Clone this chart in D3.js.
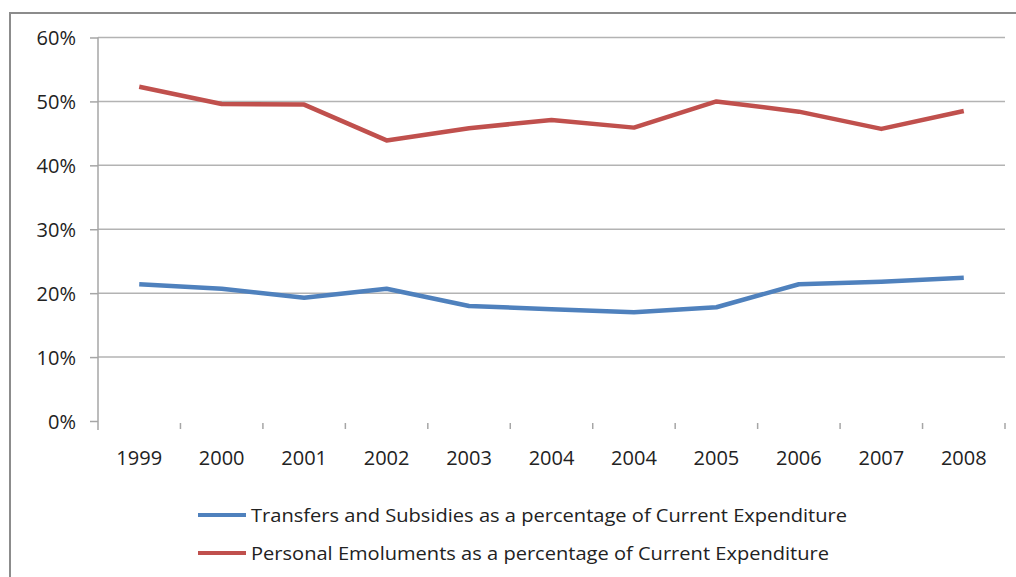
<!DOCTYPE html>
<html>
<head>
<meta charset="utf-8">
<script src="https://cdn.jsdelivr.net/npm/d3@7"></script>
<style>
  body { margin: 0; background: #fff; }
  text { font-family: "Open Sans", "Noto Sans", sans-serif; fill: #222; }
</style>
</head>
<body>
<script>
// years as printed on the axis (2004 appears twice in the source)
var years = ["1999", "2000", "2001", "2002", "2003", "2004", "2004", "2005", "2006", "2007", "2008"];
var transfers = [21.4, 20.7, 19.3, 20.7, 18.0, 17.5, 17.0, 17.8, 21.4, 21.8, 22.4];
var emoluments = [52.3, 49.6, 49.5, 43.9, 45.8, 47.1, 45.9, 50.0, 48.4, 45.7, 48.5];
var yTicks = [0, 10, 20, 30, 40, 50, 60];
var seriesNames = ["Transfers and Subsidies as a percentage of Current Expenditure",
                   "Personal Emoluments as a percentage of Current Expenditure"];

var width = 1016, height = 577;
var plotLeft = 98, plotRight = 1005, plotTop = 37.5, plotBottom = 421;

var svg = d3.select("body").append("svg")
    .attr("width", width)
    .attr("height", height);

// outer frame
svg.append("rect")
    .attr("x", 10).attr("y", 13)
    .attr("width", 1030).attr("height", 600)
    .attr("fill", "none")
    .attr("stroke", "#8c8c8c")
    .attr("stroke-width", 2);

var x = d3.scaleBand()
    .domain(d3.range(years.length))
    .range([plotLeft, plotRight]);

var y = d3.scaleLinear()
    .domain([0, 60])
    .range([plotBottom, plotTop]);

// gridlines
svg.selectAll(".grid")
    .data(yTicks.filter(function(d) { return d > 0; }))
    .enter()
    .append("line")
    .attr("class", "grid")
    .attr("x1", plotLeft).attr("x2", plotRight)
    .attr("y1", function(d) { return y(d); })
    .attr("y2", function(d) { return y(d); })
    .attr("stroke", "#b3b3b3")
    .attr("stroke-width", 1.5);

// y axis
var yAxis = svg.append("g")
    .attr("transform", "translate(" + plotLeft + ",0)")
    .call(d3.axisLeft(y).tickValues(yTicks).tickSize(8).tickPadding(14)
        .tickFormat(function(d) { return d + "%"; }));
yAxis.select(".domain").remove();
yAxis.append("line")
    .attr("x1", 0).attr("x2", 0)
    .attr("y1", plotTop).attr("y2", plotBottom + 9)
    .attr("stroke", "#a6a6a6").attr("stroke-width", 1.5);
yAxis.selectAll(".tick line").attr("stroke", "#a6a6a6").attr("stroke-width", 1.5);
yAxis.selectAll(".tick text").style("font-size", "20px").attr("dy", "0.36em");

// x axis: labels centred in bands, ticks on band edges
var xAxis = svg.append("g")
    .attr("transform", "translate(0," + plotBottom + ")")
    .call(d3.axisBottom(x).tickSize(0).tickPadding(30)
        .tickFormat(function(i) { return years[i]; }));
xAxis.select(".domain").remove();
xAxis.selectAll(".tick text").style("font-size", "20px");
xAxis.selectAll(".edge")
    .data(d3.range(1, years.length + 1))
    .enter()
    .append("line")
    .attr("class", "edge")
    .attr("x1", function(i) { return plotLeft + i * x.bandwidth(); })
    .attr("x2", function(i) { return plotLeft + i * x.bandwidth(); })
    .attr("y1", 2).attr("y2", 8)
    .attr("stroke", "#a6a6a6").attr("stroke-width", 1.5);

var line = d3.line()
    .x(function(d, i) { return x(i) + x.bandwidth() / 2; })
    .y(function(d) { return y(d); });

svg.append("path")
    .datum(emoluments)
    .attr("d", line)
    .attr("fill", "none")
    .attr("stroke", "#c0504d")
    .attr("stroke-width", 4.5)
    .attr("stroke-linejoin", "round");

svg.append("path")
    .datum(transfers)
    .attr("d", line)
    .attr("fill", "none")
    .attr("stroke", "#4f81bd")
    .attr("stroke-width", 4.5)
    .attr("stroke-linejoin", "round");

// legend
var legendColors = ["#4f81bd", "#c0504d"];
var legendLen = [596, 578];
var legend = svg.selectAll(".legend")
    .data(seriesNames)
    .enter()
    .append("g")
    .attr("class", "legend")
    .attr("transform", function(d, i) { return "translate(198," + (515 + i * 38) + ")"; });

legend.append("line")
    .attr("x1", 0).attr("x2", 48)
    .attr("stroke", function(d, i) { return legendColors[i]; })
    .attr("stroke-width", 4);

legend.append("text")
    .attr("x", 53)
    .attr("dy", "0.35em")
    .style("font-size", "19px")
    .attr("textLength", function(d, i) { return legendLen[i]; })
    .attr("lengthAdjust", "spacingAndGlyphs")
    .text(function(d) { return d; });
</script>
</body>
</html>
